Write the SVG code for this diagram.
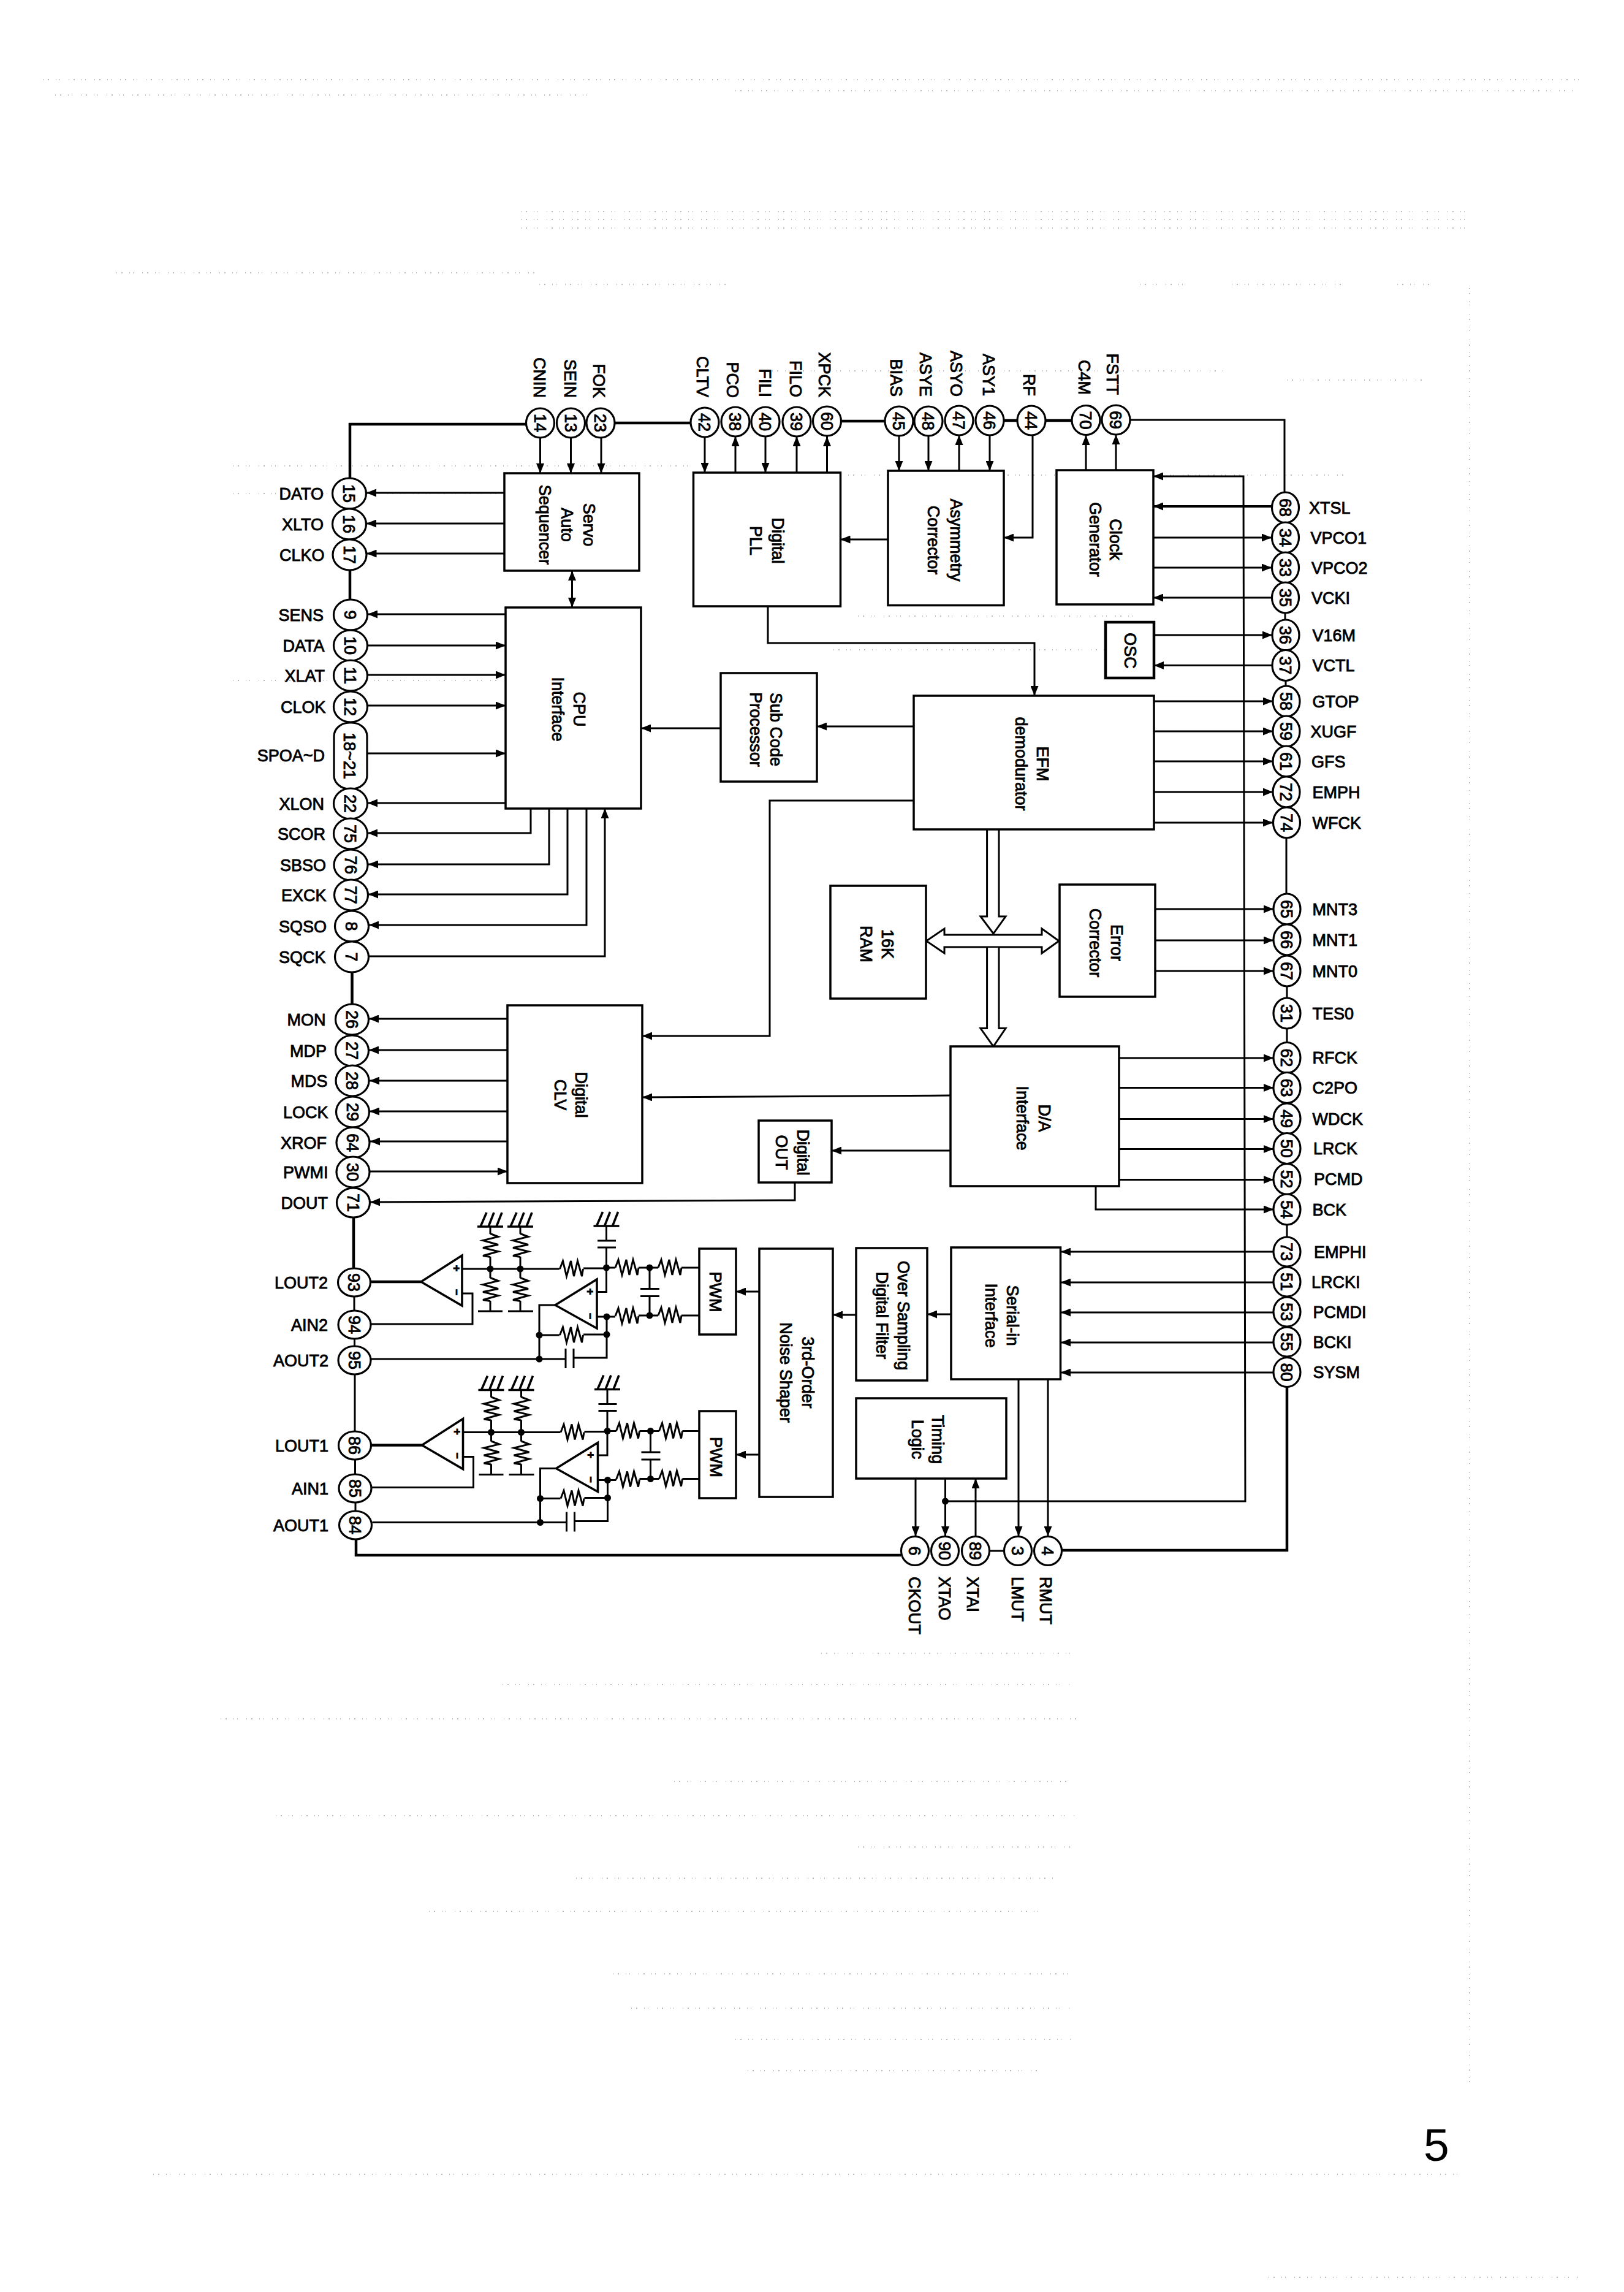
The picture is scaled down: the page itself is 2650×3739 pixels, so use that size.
<svg xmlns="http://www.w3.org/2000/svg" xmlns:xlink="http://www.w3.org/1999/xlink" width="2650" height="3739" viewBox="0 0 2650 3739">
<style>
text{font-family:"Liberation Sans",Arial,sans-serif;font-size:27px;fill:#000;stroke:#000;stroke-width:.9}
.c{text-anchor:middle}
.l{text-anchor:end}
.s{text-anchor:start}
.b{fill:#fff;stroke:#000;stroke-width:3.5}
.p{fill:#fff;stroke:#000;stroke-width:3.2}
.w{fill:none;stroke:#000;stroke-width:3}
.t{fill:none;stroke:#000;stroke-width:4.5}
.a{fill:none;stroke:#000;stroke-width:3;marker-end:url(#ah)}
.d{marker-start:url(#ahs)}
.h{fill:#fff;stroke:#000;stroke-width:3}
.k{fill:#000}
.m{font-size:18px;font-weight:bold}
.n{fill:none;stroke:#777;stroke-width:1;stroke-dasharray:1 7 2 11 1 5 1 14}
</style>
<defs>
<marker id="ah" viewBox="0 0 16 13" refX="16" refY="6.5" markerUnits="userSpaceOnUse" markerWidth="16" markerHeight="13" orient="auto"><path d="M0 0L16 6.5L0 13Z"/></marker>
<marker id="ahs" viewBox="0 0 16 13" refX="0" refY="6.5" markerUnits="userSpaceOnUse" markerWidth="16" markerHeight="13" orient="auto"><path d="M16 0L0 6.5L16 13Z"/></marker>
<path id="res" class="w" d="M-19 0L-14-13L-8 12L-1-13L4 12L10-13L17 12L19 0"/>
<path id="gnd" class="w" style="stroke-width:3.6" d="M-21 0H21M-16 0L-6-23M-3 0L6-23M10 0L19-23"/>
<g id="dac">
<path class="t" d="M604 2091H687"/>
<path class="w" d="M754 2070H849M754 2110H771V2160H605M800 2001V2013M800 2050V2085M800 2122V2139M780 2139H820M849 2001V2013M849 2050V2085M849 2122V2139M829 2139H870M849 2070H913M952 2069H990M989.5 2000V2024M975 2024H1005M975 2035H1005M989.5 2035V2107.5H974M974 2148H990M906 2129H880V2217M880 2178H913M952 2177H990M990 2148V2215H936M923 2217H606M923 2200V2232M936 2200V2232M990 2068H1004M1042 2068H1074M1112 2068H1141M990 2148H1004M1042 2146H1074M1112 2146H1141M1060 2068V2102M1045 2102.5H1076M1045 2114.5H1076M1060 2115V2146"/>
<use xlink:href="#gnd" href="#gnd" x="800" y="2001"/>
<use xlink:href="#gnd" href="#gnd" x="849" y="2001"/>
<use xlink:href="#gnd" href="#gnd" x="989.5" y="2000"/>
<use xlink:href="#res" href="#res" transform="translate(800 2031.5) rotate(90)"/>
<use xlink:href="#res" href="#res" transform="translate(800 2103.5) rotate(90)"/>
<use xlink:href="#res" href="#res" transform="translate(849 2031.5) rotate(90)"/>
<use xlink:href="#res" href="#res" transform="translate(849 2103.5) rotate(90)"/>
<use xlink:href="#res" href="#res" x="932.5" y="2070"/>
<use xlink:href="#res" href="#res" x="932.5" y="2178"/>
<use xlink:href="#res" href="#res" x="1023" y="2068"/>
<use xlink:href="#res" href="#res" x="1093" y="2068"/>
<use xlink:href="#res" href="#res" x="1023" y="2147"/>
<use xlink:href="#res" href="#res" x="1093" y="2146"/>
<polygon class="h" style="stroke-width:3.6" points="687,2091 754,2048 754,2130"/>
<polygon class="h" style="stroke-width:3.6" points="906,2129 974,2087 974,2167"/>
<g class="k"><circle cx="800" cy="2070" r="5.5"/><circle cx="849" cy="2070" r="5.5"/><circle cx="989.5" cy="2068" r="5.5"/><circle cx="990" cy="2148" r="5.5"/><circle cx="1060" cy="2068" r="5.5"/><circle cx="1060" cy="2146" r="5.5"/><circle cx="880" cy="2178" r="5.5"/><circle cx="990" cy="2177" r="5.5"/><circle cx="880" cy="2217" r="5.5"/></g>
<text class="c m" transform="translate(745 2069) rotate(90)" dy=".36em">+</text>
<text class="c m" transform="translate(745 2108) rotate(90)" dy=".36em">−</text>
<text class="c m" transform="translate(963 2107) rotate(90)" dy=".36em">+</text>
<text class="c m" transform="translate(963 2147) rotate(90)" dy=".36em">−</text>
</g>
</defs>
<rect width="2650" height="3739" fill="#fff"/>
<g id="scan-noise">
<path class="n" d="M70 130H2590M90 155H960M1200 148H2570M850 345H2390M850 358H2390M850 372H2390M190 445H880M880 464H1190M1860 464H1930M2010 464H2190M2280 464H2340M1260 605H2000M2100 620H2320M380 760H1130M1300 775H2200M380 805H820M380 1110H820M1360 1060H1880M1400 1005H1850"/>
<path class="n" d="M1340 2697H1750M820 2748H1750M360 2804H1760M1100 2906H1750M450 2962H1760M1400 3013H1750M940 3064H1720M700 3118H1700M1000 3220H1750M1030 3276H1750M1200 3327H1750M1220 3378H1700M2398 470V3400M250 3547H2390M2070 3715H2580"/>
</g>
<g id="connectors">
<path class="t" d="M858 692H571V780M1003 690H1127M1372 687H1444M1638 686H1660M1706 686H1749M571 930V978M574.5 1585V1638M577 1986V2069M581 2512V2537H1470M2100 2263V2529H1733"/>
<path class="w" d="M1844 685H2096V803M578 2115V2138M578.5 2184V2196M579 2242V2335M579.5 2381V2405M580 2451V2465M2097 1000V1011M2098 1110V1119M2099 1367V1458M2100 1609V1628M2100 1678V1701M2100 1998V2018M1615 2530H1638"/>
<path class="a" d="M881.5 714V772"/><path class="a" d="M931.5 714V772"/><path class="a" d="M981 714V772"/><path class="a" d="M1150 714V771"/><path class="a" d="M1249 712V771"/><path class="a" d="M1467 710V768"/><path class="a" d="M1515 710V768"/><path class="a" d="M1615 710V768"/>
<path class="a" d="M1200 771V712"/><path class="a" d="M1300 771V712"/><path class="a" d="M1349.5 771V712"/><path class="a" d="M1565 768V710"/><path class="a" d="M1772 767V710"/><path class="a" d="M1821 767V709"/>
<path class="a" d="M1685 709V877H1638"/><path class="a" d="M1449 880H1371.5"/>
<path class="a" d="M823 804H598"/><path class="a" d="M823 854H598"/><path class="a" d="M823 903H598.5"/><path class="a" d="M825 1002H600"/>
<path class="a" d="M600 1053H825"/><path class="a" d="M600 1101H825"/><path class="a" d="M600 1151H825"/><path class="a" d="M600 1229H825"/>
<path class="a" d="M825 1310H600"/><path class="a" d="M866 1319V1359H600"/><path class="a" d="M896 1319V1410H601"/><path class="a" d="M926 1319V1459H601"/><path class="a" d="M957 1319V1509H602"/>
<path class="a" d="M602 1560H987V1319"/>
<path class="a" d="M828 1662H602"/><path class="a" d="M828 1713H602"/><path class="a" d="M828 1763H603"/><path class="a" d="M828 1813H603"/><path class="a" d="M828 1862H604"/>
<path class="a" d="M604 1911H828"/>
<path class="a" d="M1297 1929V1958L604 1961"/>
<path class="a d" d="M933.5 931V991"/>
<path class="a" d="M1176 1188H1046"/><path class="a" d="M1491 1185H1333"/>
<path class="a" d="M1253 989V1049H1688V1135"/>
<path class="a" d="M1491 1306H1256V1690H1048"/>
<path class="a" d="M1551 1787L1048 1790"/>
<path class="a" d="M1551 1877H1357"/>
<path class="a" style="stroke-width:4" d="M2075 826H1882"/>
<path class="a" d="M1882 877H2075"/><path class="a" d="M1882 926H2075"/>
<path class="a" d="M2075 975H1882"/>
<path class="a" d="M1883 1036H2076"/>
<path class="a" d="M2076 1085.5H1883"/>
<path class="a" d="M1883 1144H2077"/><path class="a" d="M1883 1193H2077"/><path class="a" d="M1883 1242H2077"/><path class="a" d="M1883 1292H2077"/><path class="a" d="M1883 1342H2077"/>
<path class="a" d="M1885 1483H2078"/><path class="a" d="M1885 1534H2078"/><path class="a" d="M1885 1584H2078"/>
<path class="a" d="M1826 1726H2078"/><path class="a" d="M1826 1774.5H2078"/><path class="a" d="M1826 1825.5H2078"/><path class="a" d="M1826 1874.5H2078"/><path class="a" d="M1826 1924.5H2078"/>
<path class="a" d="M1788 1935V1973H2078"/>
<path class="a" d="M2078 2042H1731"/><path class="a" d="M2078 2092H1731"/><path class="a" d="M2078 2141H1731"/><path class="a" d="M2078 2190H1731"/><path class="a" d="M2078 2239H1731"/>
<path class="a" d="M1552 2144H1513"/><path class="a" d="M1397 2145H1359"/><path class="a" d="M1239 2107H1201"/><path class="a" d="M1239 2373H1201"/>
<path class="a" d="M1662 2250V2506"/><path class="a" d="M1710 2250V2506"/><path class="a" d="M1494 2412V2506"/><path class="a" d="M1542.5 2412V2506"/>
<path class="a" d="M1592 2506V2412"/>
<path class="a" d="M1542.5 2449H2032L2029 777H1882"/>
<circle class="k" cx="1542.5" cy="2449" r="5.5"/>
</g>
<g id="memory-bus">
<path class="h" d="M1610.6 1353V1495H1600L1621 1523L1641 1495H1630V1353"/>
<path class="h" d="M1541 1525V1515L1511.6 1535L1541 1555V1545H1700V1555L1728 1535L1700 1515V1525Z"/>
<path class="h" d="M1610.6 1546V1677.5H1600L1621 1707L1641 1677.5H1630V1546"/>
</g>
<g id="dac-2"><use xlink:href="#dac" href="#dac"/></g>
<g id="dac-1"><use xlink:href="#dac" href="#dac" transform="translate(1.5 266.5)"/></g>
<g id="servo"><rect class="b" x="823" y="772" width="220" height="159"/><text class="c" transform="translate(961.5 856) rotate(90)" dy=".36em">Servo</text><text class="c" transform="translate(926 856) rotate(90)" dy=".36em">Auto</text><text class="c" transform="translate(890 856) rotate(90)" dy=".36em">Sequencer</text></g>
<g id="cpu"><rect class="b" x="825" y="991" width="221" height="328"/><text class="c" transform="translate(946 1157) rotate(90)" dy=".36em">CPU</text><text class="c" transform="translate(910.5 1157) rotate(90)" dy=".36em">Interface</text></g>
<g id="pll"><rect class="b" x="1131.5" y="771" width="240" height="218"/><text class="c" transform="translate(1269.5 882) rotate(90)" dy=".36em">Digital</text><text class="c" transform="translate(1234 882) rotate(90)" dy=".36em">PLL</text></g>
<g id="asym"><rect class="b" x="1449" y="768" width="189" height="219.5"/><text class="c" transform="translate(1561 881) rotate(90)" dy=".36em">Asymmetry</text><text class="c" transform="translate(1524 881) rotate(90)" dy=".36em">Corrector</text></g>
<g id="clock"><rect class="b" x="1724" y="767" width="158" height="219"/><text class="c" transform="translate(1821 880) rotate(90)" dy=".36em">Clock</text><text class="c" transform="translate(1788 880) rotate(90)" dy=".36em">Generator</text></g>
<g id="osc"><rect class="b" style="stroke-width:4.5" x="1804" y="1015" width="79" height="91"/><text class="c" transform="translate(1844.5 1061.5) rotate(90)" dy=".36em">OSC</text></g>
<g id="subcode"><rect class="b" x="1176" y="1098" width="157" height="177"/><text class="c" transform="translate(1267 1190) rotate(90)" dy=".36em">Sub Code</text><text class="c" transform="translate(1234 1190) rotate(90)" dy=".36em">Processor</text></g>
<g id="efm"><rect class="b" x="1491" y="1135" width="392" height="218"/><text class="c" transform="translate(1701.5 1246) rotate(90)" dy=".36em">EFM</text><text class="c" transform="translate(1667 1246) rotate(90)" dy=".36em">demodurator</text></g>
<g id="ram"><rect class="b" x="1355" y="1445" width="156" height="184"/><text class="c" transform="translate(1449 1540) rotate(90)" dy=".36em">16K</text><text class="c" transform="translate(1414 1540) rotate(90)" dy=".36em">RAM</text></g>
<g id="error"><rect class="b" x="1729" y="1443" width="156" height="183"/><text class="c" transform="translate(1822.5 1538) rotate(90)" dy=".36em">Error</text><text class="c" transform="translate(1788 1538) rotate(90)" dy=".36em">Corrector</text></g>
<g id="da"><rect class="b" x="1551" y="1707" width="275" height="228"/><text class="c" transform="translate(1705 1824) rotate(90)" dy=".36em">D/A</text><text class="c" transform="translate(1668.5 1824) rotate(90)" dy=".36em">Interface</text></g>
<g id="digout"><rect class="b" x="1238" y="1828" width="119" height="101"/><text class="c" transform="translate(1311 1880) rotate(90)" dy=".36em">Digital</text><text class="c" transform="translate(1276 1880) rotate(90)" dy=".36em">OUT</text></g>
<g id="clv"><rect class="b" x="828" y="1640" width="220" height="290"/><text class="c" transform="translate(949 1786) rotate(90)" dy=".36em">Digital</text><text class="c" transform="translate(915 1786) rotate(90)" dy=".36em">CLV</text></g>
<g id="serial"><rect class="b" x="1552" y="2035" width="178.5" height="215"/><text class="c" transform="translate(1652.5 2146) rotate(90)" dy=".36em">Serial-in</text><text class="c" transform="translate(1617.5 2146) rotate(90)" dy=".36em">Interface</text></g>
<g id="oversampling"><rect class="b" x="1397" y="2036" width="116" height="216"/><text class="c" transform="translate(1475 2146) rotate(90)" dy=".36em">Over Sampling</text><text class="c" transform="translate(1440 2146) rotate(90)" dy=".36em">Digital Filter</text></g>
<g id="shaper"><rect class="b" x="1239" y="2037" width="120" height="405"/><text class="c" transform="translate(1319 2239) rotate(90)" dy=".36em">3rd-Order</text><text class="c" transform="translate(1283 2239) rotate(90)" dy=".36em">Noise Shaper</text></g>
<g id="timing"><rect class="b" x="1397" y="2281" width="245" height="131"/><text class="c" transform="translate(1531 2348) rotate(90)" dy=".36em">Timing</text><text class="c" transform="translate(1498 2348) rotate(90)" dy=".36em">Logic</text></g>
<g id="pwm2"><rect class="b" x="1141" y="2037" width="60" height="140"/><text class="c" transform="translate(1167.5 2107.5) rotate(90)" dy=".36em">PWM</text></g>
<g id="pwm1"><rect class="b" x="1141" y="2302" width="60" height="142"/><text class="c" transform="translate(1168.5 2377) rotate(90)" dy=".36em">PWM</text></g>
<g id="pins-top">
<g id="pin-14"><ellipse class="p" cx="881.5" cy="690" rx="23" ry="24"/><text class="c" transform="translate(881.5 690) rotate(90)" dy=".36em">14</text><text class="l" transform="translate(881 649) rotate(90)" dy=".36em">CNIN</text></g>
<g id="pin-13"><ellipse class="p" cx="931.5" cy="690" rx="23" ry="24"/><text class="c" transform="translate(931.5 690) rotate(90)" dy=".36em">13</text><text class="l" transform="translate(931 649) rotate(90)" dy=".36em">SEIN</text></g>
<g id="pin-23"><ellipse class="p" cx="980" cy="690" rx="23" ry="24"/><text class="c" transform="translate(980 690) rotate(90)" dy=".36em">23</text><text class="l" transform="translate(978 649) rotate(90)" dy=".36em">FOK</text></g>
<g id="pin-42"><ellipse class="p" cx="1150" cy="689" rx="23" ry="24"/><text class="c" transform="translate(1150 689) rotate(90)" dy=".36em">42</text><text class="l" transform="translate(1147 648) rotate(90)" dy=".36em">CLTV</text></g>
<g id="pin-38"><ellipse class="p" cx="1200" cy="688" rx="23" ry="24"/><text class="c" transform="translate(1200 688) rotate(90)" dy=".36em">38</text><text class="l" transform="translate(1195.5 649) rotate(90)" dy=".36em">PCO</text></g>
<g id="pin-40"><ellipse class="p" cx="1249" cy="688" rx="23" ry="24"/><text class="c" transform="translate(1249 688) rotate(90)" dy=".36em">40</text><text class="l" transform="translate(1249 648) rotate(90)" dy=".36em">FILI</text></g>
<g id="pin-39"><ellipse class="p" cx="1300" cy="688" rx="23" ry="24"/><text class="c" transform="translate(1300 688) rotate(90)" dy=".36em">39</text><text class="l" transform="translate(1299 648) rotate(90)" dy=".36em">FILO</text></g>
<g id="pin-60"><ellipse class="p" cx="1349.5" cy="687" rx="23" ry="24"/><text class="c" transform="translate(1349.5 687) rotate(90)" dy=".36em">60</text><text class="l" transform="translate(1346 648) rotate(90)" dy=".36em">XPCK</text></g>
<g id="pin-45"><ellipse class="p" cx="1467" cy="687" rx="23" ry="24"/><text class="c" transform="translate(1467 687) rotate(90)" dy=".36em">45</text><text class="l" transform="translate(1463 647) rotate(90)" dy=".36em">BIAS</text></g>
<g id="pin-48"><ellipse class="p" cx="1515" cy="687" rx="23" ry="24"/><text class="c" transform="translate(1515 687) rotate(90)" dy=".36em">48</text><text class="l" transform="translate(1511 647) rotate(90)" dy=".36em">ASYE</text></g>
<g id="pin-47"><ellipse class="p" cx="1565" cy="686" rx="23" ry="24"/><text class="c" transform="translate(1565 686) rotate(90)" dy=".36em">47</text><text class="l" transform="translate(1561 647) rotate(90)" dy=".36em">ASYO</text></g>
<g id="pin-46"><ellipse class="p" cx="1615" cy="686" rx="23" ry="24"/><text class="c" transform="translate(1615 686) rotate(90)" dy=".36em">46</text><text class="l" transform="translate(1614 646) rotate(90)" dy=".36em">ASY1</text></g>
<g id="pin-44"><ellipse class="p" cx="1683" cy="686" rx="23" ry="24"/><text class="c" transform="translate(1683 686) rotate(90)" dy=".36em">44</text><text class="l" transform="translate(1679.5 646) rotate(90)" dy=".36em">RF</text></g>
<g id="pin-70"><ellipse class="p" cx="1772" cy="685.5" rx="23" ry="24"/><text class="c" transform="translate(1772 685.5) rotate(90)" dy=".36em">70</text><text class="l" transform="translate(1770 644) rotate(90)" dy=".36em">C4M</text></g>
<g id="pin-69"><ellipse class="p" cx="1821" cy="685" rx="23" ry="24"/><text class="c" transform="translate(1821 685) rotate(90)" dy=".36em">69</text><text class="l" transform="translate(1816 644) rotate(90)" dy=".36em">FSTT</text></g>
</g>
<g id="pins-left">
<g id="pin-15"><ellipse class="p" cx="570" cy="805" rx="27.5" ry="25"/><text class="c" transform="translate(570 805) rotate(90)" dy=".36em">15</text><text class="l" x="528" y="805" dy=".36em">DATO</text></g>
<g id="pin-16"><ellipse class="p" cx="570" cy="855" rx="27.5" ry="25"/><text class="c" transform="translate(570 855) rotate(90)" dy=".36em">16</text><text class="l" x="528" y="855" dy=".36em">XLTO</text></g>
<g id="pin-17"><ellipse class="p" cx="570.5" cy="905" rx="27.5" ry="25"/><text class="c" transform="translate(570.5 905) rotate(90)" dy=".36em">17</text><text class="l" x="529.5" y="905" dy=".36em">CLKO</text></g>
<g id="pin-9"><ellipse class="p" cx="572" cy="1003" rx="27.5" ry="25"/><text class="c" transform="translate(572 1003) rotate(90)" dy=".36em">9</text><text class="l" x="528" y="1003" dy=".36em">SENS</text></g>
<g id="pin-10"><ellipse class="p" cx="572" cy="1053" rx="27.5" ry="25"/><text class="c" transform="translate(572 1053) rotate(90)" dy=".36em">10</text><text class="l" x="529.5" y="1053" dy=".36em">DATA</text></g>
<g id="pin-11"><ellipse class="p" cx="572" cy="1102" rx="27.5" ry="25"/><text class="c" transform="translate(572 1102) rotate(90)" dy=".36em">11</text><text class="l" x="530" y="1102" dy=".36em">XLAT</text></g>
<g id="pin-12"><ellipse class="p" cx="572" cy="1153" rx="27.5" ry="25"/><text class="c" transform="translate(572 1153) rotate(90)" dy=".36em">12</text><text class="l" x="531.5" y="1153" dy=".36em">CLOK</text></g>
<g id="pin-18-21"><rect class="p" x="545" y="1179" width="54" height="108" rx="25" ry="22"/><text class="c" transform="translate(571 1233) rotate(90)" dy=".36em">18~21</text><text class="l" x="530" y="1232" dy=".36em">SPOA~D</text></g>
<g id="pin-22"><ellipse class="p" cx="572" cy="1311" rx="27.5" ry="25"/><text class="c" transform="translate(572 1311) rotate(90)" dy=".36em">22</text><text class="l" x="529" y="1311" dy=".36em">XLON</text></g>
<g id="pin-75"><ellipse class="p" cx="572" cy="1360" rx="27.5" ry="25"/><text class="c" transform="translate(572 1360) rotate(90)" dy=".36em">75</text><text class="l" x="531" y="1360" dy=".36em">SCOR</text></g>
<g id="pin-76"><ellipse class="p" cx="572.5" cy="1411" rx="27.5" ry="25"/><text class="c" transform="translate(572.5 1411) rotate(90)" dy=".36em">76</text><text class="l" x="532" y="1411" dy=".36em">SBSO</text></g>
<g id="pin-77"><ellipse class="p" cx="573" cy="1460" rx="27.5" ry="25"/><text class="c" transform="translate(573 1460) rotate(90)" dy=".36em">77</text><text class="l" x="532.5" y="1460" dy=".36em">EXCK</text></g>
<g id="pin-8"><ellipse class="p" cx="574" cy="1511" rx="27.5" ry="25"/><text class="c" transform="translate(574 1511) rotate(90)" dy=".36em">8</text><text class="l" x="533" y="1511" dy=".36em">SQSO</text></g>
<g id="pin-7"><ellipse class="p" cx="574" cy="1561" rx="27.5" ry="25"/><text class="c" transform="translate(574 1561) rotate(90)" dy=".36em">7</text><text class="l" x="531.5" y="1561" dy=".36em">SQCK</text></g>
<g id="pin-26"><ellipse class="p" cx="574.5" cy="1663" rx="27" ry="25"/><text class="c" transform="translate(574.5 1663) rotate(90)" dy=".36em">26</text><text class="l" x="531.5" y="1663" dy=".36em">MON</text></g>
<g id="pin-27"><ellipse class="p" cx="574.5" cy="1714" rx="27" ry="25"/><text class="c" transform="translate(574.5 1714) rotate(90)" dy=".36em">27</text><text class="l" x="533" y="1714" dy=".36em">MDP</text></g>
<g id="pin-28"><ellipse class="p" cx="575" cy="1763" rx="27" ry="25"/><text class="c" transform="translate(575 1763) rotate(90)" dy=".36em">28</text><text class="l" x="534.5" y="1763" dy=".36em">MDS</text></g>
<g id="pin-29"><ellipse class="p" cx="575.5" cy="1814" rx="27" ry="25"/><text class="c" transform="translate(575.5 1814) rotate(90)" dy=".36em">29</text><text class="l" x="535.5" y="1814" dy=".36em">LOCK</text></g>
<g id="pin-64"><ellipse class="p" cx="576" cy="1864" rx="27" ry="25"/><text class="c" transform="translate(576 1864) rotate(90)" dy=".36em">64</text><text class="l" x="533" y="1864" dy=".36em">XROF</text></g>
<g id="pin-30"><ellipse class="p" cx="576" cy="1912" rx="27" ry="25"/><text class="c" transform="translate(576 1912) rotate(90)" dy=".36em">30</text><text class="l" x="535.5" y="1912" dy=".36em">PWMI</text></g>
<g id="pin-71"><ellipse class="p" cx="576.5" cy="1962" rx="27" ry="24"/><text class="c" transform="translate(576.5 1962) rotate(90)" dy=".36em">71</text><text class="l" x="535" y="1962" dy=".36em">DOUT</text></g>
<g id="pin-93"><ellipse class="p" cx="578" cy="2092" rx="26.5" ry="23"/><text class="c" transform="translate(578 2092) rotate(90)" dy=".36em">93</text><text class="l" x="535" y="2092" dy=".36em">LOUT2</text></g>
<g id="pin-94"><ellipse class="p" cx="578.5" cy="2161" rx="26.5" ry="23"/><text class="c" transform="translate(578.5 2161) rotate(90)" dy=".36em">94</text><text class="l" x="535" y="2161" dy=".36em">AIN2</text></g>
<g id="pin-95"><ellipse class="p" cx="578.5" cy="2219" rx="26.5" ry="23"/><text class="c" transform="translate(578.5 2219) rotate(90)" dy=".36em">95</text><text class="l" x="536" y="2219" dy=".36em">AOUT2</text></g>
<g id="pin-86"><ellipse class="p" cx="579" cy="2358" rx="26.5" ry="23"/><text class="c" transform="translate(579 2358) rotate(90)" dy=".36em">86</text><text class="l" x="536" y="2358" dy=".36em">LOUT1</text></g>
<g id="pin-85"><ellipse class="p" cx="579.5" cy="2428" rx="26.5" ry="23"/><text class="c" transform="translate(579.5 2428) rotate(90)" dy=".36em">85</text><text class="l" x="536" y="2428" dy=".36em">AIN1</text></g>
<g id="pin-84"><ellipse class="p" cx="580" cy="2488" rx="26.5" ry="23"/><text class="c" transform="translate(580 2488) rotate(90)" dy=".36em">84</text><text class="l" x="536" y="2488" dy=".36em">AOUT1</text></g>
</g>
<g id="pins-right">
<g id="pin-68"><ellipse class="p" cx="2097.5" cy="828" rx="22" ry="25"/><text class="c" transform="translate(2097.5 828) rotate(90)" dy=".36em">68</text><text class="s" x="2136" y="828" dy=".36em">XTSL</text></g>
<g id="pin-34"><ellipse class="p" cx="2097.5" cy="877" rx="22" ry="25"/><text class="c" transform="translate(2097.5 877) rotate(90)" dy=".36em">34</text><text class="s" x="2138.5" y="877" dy=".36em">VPCO1</text></g>
<g id="pin-33"><ellipse class="p" cx="2097.5" cy="926" rx="22" ry="25"/><text class="c" transform="translate(2097.5 926) rotate(90)" dy=".36em">33</text><text class="s" x="2140" y="926" dy=".36em">VPCO2</text></g>
<g id="pin-35"><ellipse class="p" cx="2097.5" cy="975" rx="22" ry="25"/><text class="c" transform="translate(2097.5 975) rotate(90)" dy=".36em">35</text><text class="s" x="2140" y="975" dy=".36em">VCKI</text></g>
<g id="pin-36"><ellipse class="p" cx="2098" cy="1036" rx="22" ry="25"/><text class="c" transform="translate(2098 1036) rotate(90)" dy=".36em">36</text><text class="s" x="2141.5" y="1036" dy=".36em">V16M</text></g>
<g id="pin-37"><ellipse class="p" cx="2098" cy="1085.5" rx="22" ry="25"/><text class="c" transform="translate(2098 1085.5) rotate(90)" dy=".36em">37</text><text class="s" x="2141.5" y="1085.5" dy=".36em">VCTL</text></g>
<g id="pin-58"><ellipse class="p" cx="2099" cy="1144" rx="22" ry="25"/><text class="c" transform="translate(2099 1144) rotate(90)" dy=".36em">58</text><text class="s" x="2141.5" y="1144" dy=".36em">GTOP</text></g>
<g id="pin-59"><ellipse class="p" cx="2099" cy="1193" rx="22" ry="25"/><text class="c" transform="translate(2099 1193) rotate(90)" dy=".36em">59</text><text class="s" x="2138.5" y="1193" dy=".36em">XUGF</text></g>
<g id="pin-61"><ellipse class="p" cx="2099" cy="1242" rx="22" ry="25"/><text class="c" transform="translate(2099 1242) rotate(90)" dy=".36em">61</text><text class="s" x="2140" y="1242" dy=".36em">GFS</text></g>
<g id="pin-72"><ellipse class="p" cx="2099" cy="1292" rx="22" ry="25"/><text class="c" transform="translate(2099 1292) rotate(90)" dy=".36em">72</text><text class="s" x="2141.5" y="1292" dy=".36em">EMPH</text></g>
<g id="pin-74"><ellipse class="p" cx="2099.5" cy="1342" rx="22" ry="25"/><text class="c" transform="translate(2099.5 1342) rotate(90)" dy=".36em">74</text><text class="s" x="2141.5" y="1342" dy=".36em">WFCK</text></g>
<g id="pin-65"><ellipse class="p" cx="2100" cy="1483" rx="22" ry="25"/><text class="c" transform="translate(2100 1483) rotate(90)" dy=".36em">65</text><text class="s" x="2141.5" y="1483" dy=".36em">MNT3</text></g>
<g id="pin-66"><ellipse class="p" cx="2100" cy="1533" rx="22" ry="25"/><text class="c" transform="translate(2100 1533) rotate(90)" dy=".36em">66</text><text class="s" x="2141.5" y="1533" dy=".36em">MNT1</text></g>
<g id="pin-67"><ellipse class="p" cx="2100" cy="1584" rx="22" ry="25"/><text class="c" transform="translate(2100 1584) rotate(90)" dy=".36em">67</text><text class="s" x="2141.5" y="1584" dy=".36em">MNT0</text></g>
<g id="pin-31"><ellipse class="p" cx="2100" cy="1653" rx="22" ry="25"/><text class="c" transform="translate(2100 1653) rotate(90)" dy=".36em">31</text><text class="s" x="2141.5" y="1653" dy=".36em">TES0</text></g>
<g id="pin-62"><ellipse class="p" cx="2100" cy="1725.5" rx="22" ry="25"/><text class="c" transform="translate(2100 1725.5) rotate(90)" dy=".36em">62</text><text class="s" x="2141.5" y="1725.5" dy=".36em">RFCK</text></g>
<g id="pin-63"><ellipse class="p" cx="2100" cy="1774.5" rx="22" ry="25"/><text class="c" transform="translate(2100 1774.5) rotate(90)" dy=".36em">63</text><text class="s" x="2141.5" y="1774.5" dy=".36em">C2PO</text></g>
<g id="pin-49"><ellipse class="p" cx="2100" cy="1825" rx="22" ry="25"/><text class="c" transform="translate(2100 1825) rotate(90)" dy=".36em">49</text><text class="s" x="2141.5" y="1825" dy=".36em">WDCK</text></g>
<g id="pin-50"><ellipse class="p" cx="2100" cy="1873.5" rx="22" ry="25"/><text class="c" transform="translate(2100 1873.5) rotate(90)" dy=".36em">50</text><text class="s" x="2143" y="1873.5" dy=".36em">LRCK</text></g>
<g id="pin-52"><ellipse class="p" cx="2100" cy="1923.5" rx="22" ry="25"/><text class="c" transform="translate(2100 1923.5) rotate(90)" dy=".36em">52</text><text class="s" x="2144" y="1923.5" dy=".36em">PCMD</text></g>
<g id="pin-54"><ellipse class="p" cx="2100" cy="1973" rx="22" ry="25"/><text class="c" transform="translate(2100 1973) rotate(90)" dy=".36em">54</text><text class="s" x="2141.5" y="1973" dy=".36em">BCK</text></g>
<g id="pin-73"><ellipse class="p" cx="2100" cy="2042" rx="22" ry="24"/><text class="c" transform="translate(2100 2042) rotate(90)" dy=".36em">73</text><text class="s" x="2144" y="2042" dy=".36em">EMPHI</text></g>
<g id="pin-51"><ellipse class="p" cx="2100" cy="2091" rx="22" ry="24"/><text class="c" transform="translate(2100 2091) rotate(90)" dy=".36em">51</text><text class="s" x="2140" y="2091" dy=".36em">LRCKI</text></g>
<g id="pin-53"><ellipse class="p" cx="2100" cy="2140" rx="22" ry="24"/><text class="c" transform="translate(2100 2140) rotate(90)" dy=".36em">53</text><text class="s" x="2142.5" y="2140" dy=".36em">PCMDI</text></g>
<g id="pin-55"><ellipse class="p" cx="2100" cy="2189" rx="22" ry="24"/><text class="c" transform="translate(2100 2189) rotate(90)" dy=".36em">55</text><text class="s" x="2142.5" y="2189" dy=".36em">BCKI</text></g>
<g id="pin-80"><ellipse class="p" cx="2100" cy="2238.5" rx="22" ry="24"/><text class="c" transform="translate(2100 2238.5) rotate(90)" dy=".36em">80</text><text class="s" x="2142.5" y="2238.5" dy=".36em">SYSM</text></g>
</g>
<g id="pins-bottom">
<g id="pin-6"><ellipse class="p" cx="1493" cy="2530" rx="22.5" ry="23.5"/><text class="c" transform="translate(1493 2530) rotate(90)" dy=".36em">6</text><text class="s" transform="translate(1493 2572) rotate(90)" dy=".36em">CKOUT</text></g>
<g id="pin-90"><ellipse class="p" cx="1542" cy="2530" rx="22.5" ry="23.5"/><text class="c" transform="translate(1542 2530) rotate(90)" dy=".36em">90</text><text class="s" transform="translate(1542 2572) rotate(90)" dy=".36em">XTAO</text></g>
<g id="pin-89"><ellipse class="p" cx="1592" cy="2530" rx="22.5" ry="23.5"/><text class="c" transform="translate(1592 2530) rotate(90)" dy=".36em">89</text><text class="s" transform="translate(1588 2572) rotate(90)" dy=".36em">XTAI</text></g>
<g id="pin-3"><ellipse class="p" cx="1661" cy="2530" rx="22.5" ry="23.5"/><text class="c" transform="translate(1661 2530) rotate(90)" dy=".36em">3</text><text class="s" transform="translate(1661 2572) rotate(90)" dy=".36em">LMUT</text></g>
<g id="pin-4"><ellipse class="p" cx="1710" cy="2530" rx="22.5" ry="23.5"/><text class="c" transform="translate(1710 2530) rotate(90)" dy=".36em">4</text><text class="s" transform="translate(1707 2572) rotate(90)" dy=".36em">RMUT</text></g>
</g>
<text style="font-size:75px;stroke-width:0" x="2323" y="3525">5</text>
</svg>
